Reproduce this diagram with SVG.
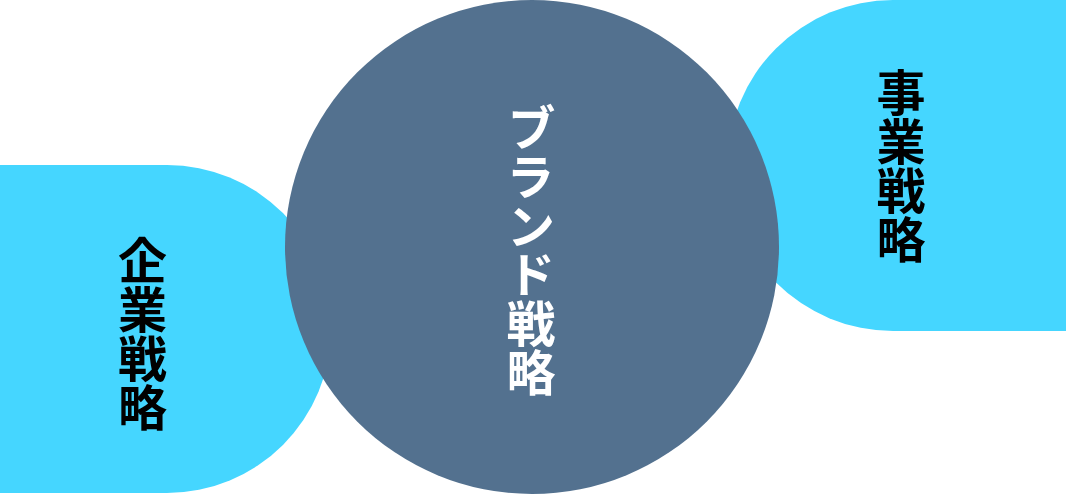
<svg xmlns="http://www.w3.org/2000/svg" width="1066" height="496" viewBox="0 0 1066 496">
<style>
.side{fill:#45D6FF}
.core{fill:#53718F}
.lbl{font-family:"Noto Sans CJK JP","Noto Sans CJK SC",sans-serif;font-weight:bold;font-size:49px;writing-mode:vertical-rl;text-anchor:middle}
</style>
<rect width="1066" height="496" fill="#FFFFFF"/>
<g id="corporate">
<path class="side" d="M0,165 H167 A164,164 0 0 1 167,493 H0 Z"/>
<text class="lbl" x="142.5" y="334" fill="#000000">企業戦略</text>
</g>
<g id="business">
<path class="side" d="M1066,0 V331 H893 A165.5,165.5 0 0 1 893,0 Z"/>
<text class="lbl" x="901" y="166" fill="#000000">事業戦略</text>
</g>
<g id="brand">
<circle class="core" cx="532" cy="247" r="247"/>
<text class="lbl" x="531" y="250" fill="#FFFFFF">ブランド戦略</text>
</g>
<g id="connectors"/>
</svg>
